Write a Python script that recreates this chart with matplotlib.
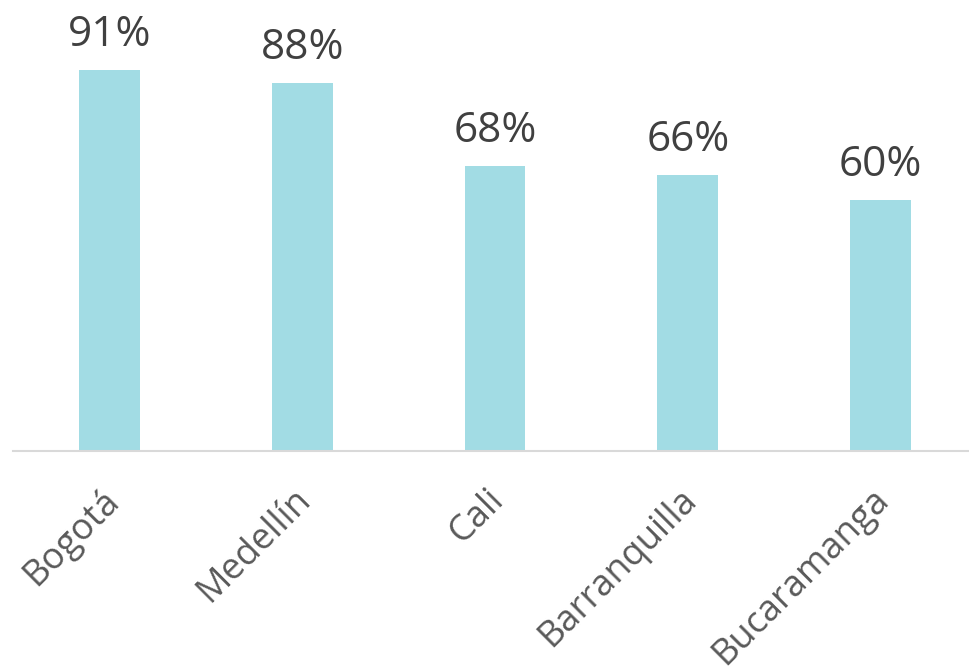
import matplotlib
matplotlib.use('Agg')
import matplotlib.pyplot as plt
from matplotlib.transforms import ScaledTranslation

cities = ['Bogotá', 'Medellín', 'Cali', 'Barranquilla', 'Bucaramanga']
values = [91, 88, 68, 66, 60]
labels = ['91%', '88%', '68%', '66%', '60%']

plt.rcParams['font.family'] = ['Open Sans', 'DejaVu Sans']

fig = plt.figure(figsize=(9.7, 6.72), dpi=100)
# px -> figure fractions: baseline at y=451, 4.187 px per %
ax = fig.add_axes([13 / 970, 1 - 451 / 672, 964 / 970, 418.7 / 672])

x = range(len(cities))
bars = ax.bar(x, values, width=0.316, color='#A2DCE4')

ax.set_xlim(-0.5, 4.5)
ax.set_ylim(0, 100)

for b, lab in zip(bars, labels):
    ax.annotate(lab, (b.get_x() + b.get_width() / 2, b.get_height()),
                xytext=(0, 14), textcoords='offset pixels',
                ha='center', va='bottom', fontsize=30.5, color='#404040')

ax.set_xticks(list(x))
ax.set_xticklabels(cities, rotation=45, ha='right', rotation_mode='anchor',
                   fontsize=26, color='#595959')
ax.tick_params(axis='x', length=0, pad=22)
ax.set_yticks([])
# nudge the rotated labels a bit to the left
shift = ScaledTranslation(-9 / 100, 0, fig.dpi_scale_trans)
for t in ax.get_xticklabels():
    t.set_transform(t.get_transform() + shift)

for s in ['top', 'right', 'left']:
    ax.spines[s].set_visible(False)
ax.spines['bottom'].set_color('#D9D9D9')
ax.spines['bottom'].set_linewidth(1.5)

fig.savefig('out.png', dpi=100)
